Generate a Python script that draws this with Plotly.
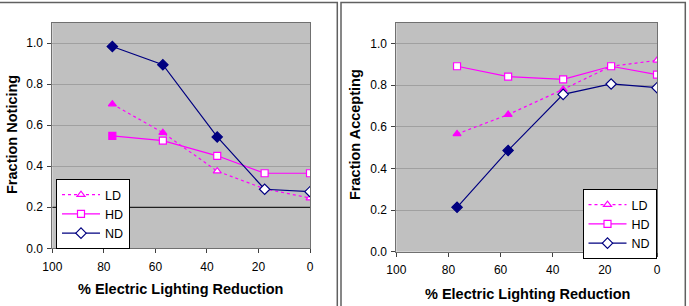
import plotly.graph_objects as go

# ---- data ----
reduction = [76.7, 57.1, 36.0, 17.6, 0.0]

noticing_LD = [0.703, 0.564, 0.376, 0.290, 0.245]
noticing_HD = [0.548, 0.525, 0.451, 0.366, 0.366]
noticing_ND = [0.984, 0.895, 0.543, 0.288, 0.276]

accepting_LD = [0.565, 0.658, 0.779, 0.890, 0.918]
accepting_HD = [0.890, 0.840, 0.827, 0.890, 0.850]
accepting_ND = [0.213, 0.486, 0.755, 0.805, 0.787]

series_names = ["LD", "HD", "ND"]
x_ticks = [100, 80, 60, 40, 20, 0]
y_ticks = [0.0, 0.2, 0.4, 0.6, 0.8, 1.0]
threshold = 0.2

# filled (True) / hollow (False) markers per point
fill_noticing = {"LD": [True, True, False, False, False],
                 "HD": [True, False, False, False, False],
                 "ND": [True, True, True, False, False]}
fill_accepting = {"LD": [True, True, True, False, False],
                  "HD": [False, False, False, False, False],
                  "ND": [True, True, False, False, False]}

# ---- styles ----
W, H = 689, 306
colors = {"LD": "#FF00FF", "HD": "#FF00FF", "ND": "#000080"}
symbols = {"LD": "triangle-up", "HD": "square", "ND": "diamond"}
dashes = {"LD": "dot", "HD": "solid", "ND": "solid"}
msize = {"LD": 7, "HD": 7, "ND": 8}
FONT = "Liberation Sans, Arial, sans-serif"

fig = go.Figure()

def add_panel(vals, fills, xa, ya, legend):
    for name in series_names:
        c = colors[name]
        fig.add_trace(go.Scatter(
            x=reduction, y=vals[name], mode="lines+markers",
            xaxis=xa, yaxis=ya, showlegend=False, name=name,
            line=dict(color=c, width=1.2, dash=dashes[name]),
            marker=dict(symbol=symbols[name], size=msize[name],
                        color=[c if f else "white" for f in fills[name]],
                        line=dict(color=c, width=1.2)),
        ))
    for name in series_names:
        c = colors[name]
        fig.add_trace(go.Scatter(
            x=[None], y=[None], mode="lines+markers", name=name,
            xaxis=xa, yaxis=ya, legend=legend, showlegend=True,
            line=dict(color=c, width=1.2, dash=dashes[name]),
            marker=dict(symbol=symbols[name], size=msize[name], color="white",
                        line=dict(color=c, width=1.2)),
        ))

add_panel({"LD": noticing_LD, "HD": noticing_HD, "ND": noticing_ND},
          fill_noticing, "x", "y", "legend")
add_panel({"LD": accepting_LD, "HD": accepting_HD, "ND": accepting_ND},
          fill_accepting, "x2", "y2", "legend2")

def px_x(p):
    return p / W

def px_y(p):
    return (H - p) / H

axis_common = dict(showgrid=False, zeroline=False, showline=True, linecolor="#707070",
                   linewidth=1, mirror=True, ticks="outside", ticklen=4, tickcolor="#404040",
                   automargin=False,
                   tickfont=dict(family=FONT, size=12, color="black"))

xcommon = dict(axis_common, range=[100, 0], tickvals=x_ticks,
               ticktext=[str(v) for v in x_ticks], ticklabelstandoff=3)
ycommon = dict(axis_common, range=[0, 1.1], tickvals=y_ticks, tickformat=".1f",
               showgrid=True, gridcolor="#a0a0a0", gridwidth=1, ticklabelstandoff=2)

legend_common = dict(yanchor="top", bgcolor="white", bordercolor="black",
                     borderwidth=1, font=dict(family=FONT, size=12.5), tracegroupgap=0,
                     itemwidth=38)

fig.update_layout(
    template="none",
    width=W, height=H, margin=dict(l=0, r=0, t=0, b=0, pad=0),
    paper_bgcolor="white", plot_bgcolor="#C0C0C0",
    font=dict(family=FONT, size=12, color="black"),
    xaxis=dict(xcommon, domain=[px_x(52.3), px_x(310)], anchor="y"),
    yaxis=dict(ycommon, domain=[px_y(248.3), px_y(22.7)], anchor="x"),
    xaxis2=dict(xcommon, domain=[px_x(396.3), px_x(657)], anchor="y2"),
    yaxis2=dict(ycommon, domain=[px_y(251.7), px_y(22.5)], anchor="x2"),
    legend=dict(legend_common, x=px_x(56), xanchor="left", y=px_y(179)),
    legend2=dict(legend_common, x=px_x(656.5), xanchor="right", y=px_y(189)),
    showlegend=True,
)

# threshold line on left panel
fig.add_shape(type="line", xref="x", yref="y", x0=x_ticks[0], x1=x_ticks[-1],
              y0=threshold, y1=threshold, line=dict(color="#202020", width=1.2))

# panel frames
fig.add_shape(type="rect", xref="paper", yref="paper", x0=-0.01, x1=px_x(337.3),
              y0=-0.05, y1=px_y(2.5), line=dict(color="#606060", width=1.5))
fig.add_shape(type="rect", xref="paper", yref="paper", x0=px_x(341), x1=px_x(685.3),
              y0=-0.05, y1=px_y(2.5), line=dict(color="#606060", width=1.5))

title_font = dict(family=FONT, size=14.5, color="black")
annots = [
    dict(text="<b>Fraction Noticing</b>", x=px_x(12), y=px_y(135), textangle=-90),
    dict(text="<b>% Electric Lighting Reduction</b>", x=px_x(180), y=px_y(289)),
    dict(text="<b>Fraction Accepting</b>", x=px_x(355), y=px_y(135), textangle=-90),
    dict(text="<b>% Electric Lighting Reduction</b>", x=px_x(527), y=px_y(294)),
]
for a in annots:
    fig.add_annotation(xref="paper", yref="paper", showarrow=False,
                       xanchor="center", yanchor="middle", font=title_font, **a)

fig.write_html("out.html")
